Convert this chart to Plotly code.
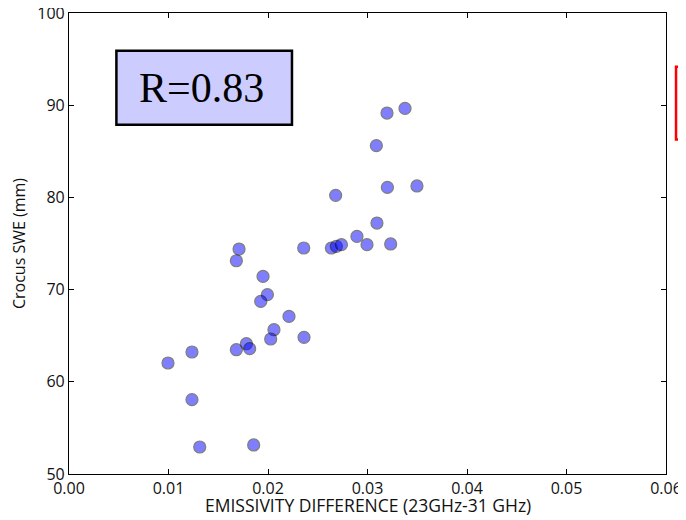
import plotly.graph_objects as go

# Data
emissivity_diff = [
    0.01709, 0.01682, 0.02359, 0.01950, 0.01994, 0.01927, 0.02211, 0.02060,
    0.02027, 0.02362, 0.01783, 0.01816, 0.01682, 0.01236, 0.00995, 0.01236,
    0.01314, 0.01856, 0.03196, 0.03377, 0.03089, 0.03200, 0.03497, 0.02680,
    0.03095, 0.02894, 0.02995, 0.03233, 0.02637, 0.02687, 0.02738,
]
crocus_swe = [
    74.40, 73.13, 74.51, 71.43, 69.45, 68.72, 67.09, 65.65,
    64.64, 64.82, 64.13, 63.59, 63.48, 63.23, 62.04, 58.06,
    52.93, 53.15, 89.15, 89.65, 85.61, 81.08, 81.24, 80.22,
    77.22, 75.77, 74.87, 74.95, 74.51, 74.69, 74.87,
]
x_ticks = [0.00, 0.01, 0.02, 0.03, 0.04, 0.05, 0.06]
x_tick_labels = ["0.00", "0.01", "0.02", "0.03", "0.04", "0.05", "0.06"]
y_ticks = [50, 60, 70, 80, 90, 100]
y_tick_labels = ["50", "60", "70", "80", "90", "100"]
r_label = "R=0.83"
x_title = "EMISSIVITY DIFFERENCE (23GHz-31 GHz)"
y_title = "Crocus SWE (mm)"

fig = go.Figure()
fig.add_trace(go.Scatter(
    x=emissivity_diff, y=crocus_swe, mode="markers",
    marker=dict(size=12, color="rgb(0,0,255)", opacity=0.5,
                line=dict(color="black", width=1.2)),
    showlegend=False, hoverinfo="x+y",
))

axis_common = dict(
    showgrid=False, zeroline=False, showline=True, linecolor="black",
    linewidth=1.2, mirror="ticks", ticks="inside", ticklen=5,
    tickcolor="black", tickwidth=1, automargin=False,
    ticklabeloverflow="allow",
    tickfont=dict(family="Open Sans", size=16, color="#111"),
)

fig.update_xaxes(
    range=[0, 0.06], tickmode="array", tickvals=x_ticks, ticktext=x_tick_labels,
    **axis_common,
)
fig.update_yaxes(
    range=[50, 100], tickmode="array", tickvals=y_ticks, ticktext=y_tick_labels,
    title=dict(text=y_title, font=dict(family="Open Sans", size=16, color="#111"),
               standoff=9),
    **axis_common,
)

# x axis title placed below the tick labels
fig.add_annotation(xref="paper", yref="paper", x=0.5, y=-0.067,
                   text=x_title, showarrow=False, xanchor="center", yanchor="middle",
                   font=dict(family="Open Sans", size=17.5, color="#111"))

# R value box
fig.add_shape(type="rect", xref="paper", yref="paper",
              x0=0.0794, x1=0.3735, y0=0.7577, y1=0.9182,
              fillcolor="#ccccff", line=dict(color="black", width=2.5))
fig.add_annotation(xref="paper", yref="paper", x=0.2226, y=0.838,
                   text=r_label, showarrow=False, xanchor="center", yanchor="middle",
                   font=dict(family="Liberation Serif", size=42, color="black"))

# partially visible red box on the right edge
fig.add_shape(type="rect", xref="paper", yref="paper",
              x0=1.0168, x1=1.2, y0=0.7254, y1=0.8835,
              fillcolor="rgba(0,0,0,0)", line=dict(color="red", width=2.5))

# the page adds an 8px body margin, so the figure is 8px smaller than the window
fig.update_layout(
    width=678, height=512,
    margin=dict(l=61.3, r=19.7, t=5.3, b=45.7),
    paper_bgcolor="white", plot_bgcolor="white",
)

fig.write_html("out.html")
